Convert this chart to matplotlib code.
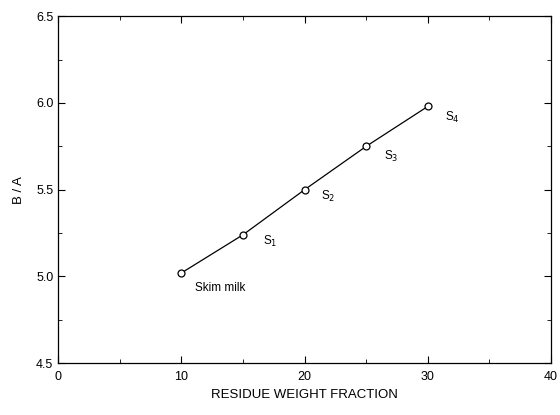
import numpy as np
import matplotlib.pyplot as plt
from matplotlib.ticker import MultipleLocator

plt.rcParams['font.family'] = ['Liberation Sans', 'DejaVu Sans']

# datos
fraccion = [10, 15, 20, 25, 30]
ba = [5.02, 5.24, 5.50, 5.75, 5.98]
etiquetas = ['Skim milk', 'S$_1$', 'S$_2$', 'S$_3$', 'S$_4$']

fig = plt.figure(figsize=(5.6, 4.15), dpi=100)
ax = fig.add_axes([0.104, 0.125, 0.880, 0.836])

ax.plot(fraccion, ba, '-', color='black', lw=0.9, marker='o', ms=5,
        mfc='white', mec='black', mew=0.9)

# etiquetas de cada punto (desplazamiento en pixeles)
desplaz = [(14, -15), (20, -7), (16, -7), (18, -10), (17, -11)]
for x, y, t, d in zip(fraccion, ba, etiquetas, desplaz):
    ax.annotate(t, (x, y), xytext=d, textcoords='offset pixels',
                ha='left', va='center', fontsize=8.5)

ax.set_xlim(0, 40)
ax.set_ylim(4.5, 6.5)
ax.xaxis.set_major_locator(MultipleLocator(10))
ax.xaxis.set_minor_locator(MultipleLocator(5))
ax.yaxis.set_major_locator(MultipleLocator(0.5))
ax.yaxis.set_minor_locator(MultipleLocator(0.25))
ax.yaxis.set_major_formatter(plt.FormatStrFormatter('%.1f'))
ax.tick_params(which='both', direction='in', top=True, right=True, labelsize=9)
ax.tick_params(which='major', length=5)
ax.tick_params(which='minor', length=3)
ax.tick_params(axis='x', pad=6)
for s in ax.spines.values():
    s.set_linewidth(0.9)

ax.set_xlabel('RESIDUE WEIGHT FRACTION', fontsize=9.5, labelpad=4)
ax.set_ylabel('B / A', fontsize=9.5, labelpad=8)

plt.savefig('out.png', dpi=100)
